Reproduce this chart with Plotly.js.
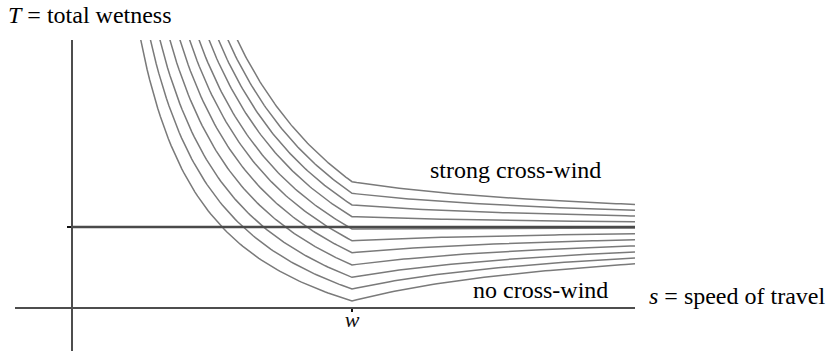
<!DOCTYPE html>
<html>
<head>
<meta charset="utf-8">
<script src="https://cdn.plot.ly/plotly-3.0.1.min.js"></script>
<style>html,body{margin:0;padding:0;background:#fff;}#chart{width:826px;height:351px;}</style>
</head>
<body>
<div id="chart"></div>
<script>
// ---- values ----
// speed of the rain's horizontal component (tick "w"), in units of w
const rainSpeed = 1;
// level of the flat (dark) line: wetness reached as s grows, in units of that level
const limitWetness = 1.0;
// total wetness of each curve at s = w (top = strong cross-wind, bottom = no cross-wind)
const wetnessAtW = [1.566, 1.421, 1.275, 1.129, 0.975, 0.829, 0.679, 0.525, 0.371, 0.225, 0.075];
// axis extents (s in units of w, T in units of the flat level)
const sRange = [-0.1993, 2.0071];
const tRange = [-0.55, 3.3375];
const xTickVals = [rainSpeed];
const xTickText = ['<i>w</i>'];
const yTickVals = [limitWetness];

// wetness model: rain from behind for s < w, from the front for s > w
function wetness(s, tw) {
  if (s < rainSpeed) return -limitWetness + (limitWetness + tw) * rainSpeed / s;
  return limitWetness + (tw - limitWetness) * rainSpeed / s;
}

const FONT = '"Liberation Serif", "Times New Roman", serif';
const traces = [];
wetnessAtW.forEach(function (tw) {
  const sStart = (limitWetness + tw) * rainSpeed / (limitWetness + tRange[1] + 0.1);
  const xs = [], ys = [];
  const n1 = 80;
  for (let i = 0; i <= n1; i++) {
    const s = sStart + (rainSpeed - sStart) * i / n1;
    xs.push(s); ys.push(wetness(s, tw));
  }
  const n2 = 60;
  for (let i = 1; i <= n2; i++) {
    const s = rainSpeed + (sRange[1] - rainSpeed) * i / n2;
    xs.push(s); ys.push(wetness(s, tw));
  }
  traces.push({x: xs, y: ys, mode: 'lines', line: {color: '#7a7a7a', width: 1.5}, hoverinfo: 'skip', showlegend: false});
});
// the flat line
traces.push({x: [0, sRange[1]], y: [limitWetness, limitWetness], mode: 'lines',
  line: {color: '#4a4a4a', width: 2.4}, hoverinfo: 'skip', showlegend: false});

// helpers for text placement (pixel -> paper)
const L = 15, R = 635, T = 40, B = 351;
function px(x) { return (x - L) / (R - L); }
function py(y) { return (B - y) / (B - T); }

const layout = {
  width: 826, height: 351,
  margin: {l: L, r: 826 - R, t: T, b: 0},
  paper_bgcolor: '#fff', plot_bgcolor: '#fff',
  showlegend: false,
  xaxis: {
    range: sRange, domain: [0, 1], anchor: 'free',
    position: -tRange[0] / (tRange[1] - tRange[0]),
    showgrid: false, zeroline: false,
    showline: true, linecolor: '#4d4d4d', linewidth: 1.6,
    tickmode: 'array', tickvals: xTickVals, ticktext: xTickText,
    ticks: 'outside', ticklen: 3, tickwidth: 2, tickcolor: '#111',
    ticklabelstandoff: -11,
    tickfont: {family: FONT, size: 22, color: '#111'}
  },
  yaxis: {
    range: tRange, domain: [0, 1], anchor: 'free',
    position: -sRange[0] / (sRange[1] - sRange[0]),
    showgrid: false, zeroline: false,
    showline: true, linecolor: '#4d4d4d', linewidth: 1.6,
    tickmode: 'array', tickvals: yTickVals, showticklabels: false,
    ticks: 'outside', ticklen: 4, tickwidth: 2, tickcolor: '#111'
  },
  annotations: [
    {text: '<i>T</i> = total wetness', xref: 'paper', yref: 'paper', x: px(6), y: py(15), xanchor: 'left', yanchor: 'middle', showarrow: false, font: {family: FONT, size: 24, color: '#000'}},
    {text: 'strong cross-wind', xref: 'paper', yref: 'paper', x: px(428), y: py(170), xanchor: 'left', yanchor: 'middle', showarrow: false, font: {family: FONT, size: 24, color: '#000'}},
    {text: 'no cross-wind', xref: 'paper', yref: 'paper', x: px(471), y: py(290), xanchor: 'left', yanchor: 'middle', showarrow: false, font: {family: FONT, size: 24, color: '#000'}},
    {text: '<i>s</i> = speed of travel', xref: 'paper', yref: 'paper', x: px(647), y: py(296), xanchor: 'left', yanchor: 'middle', showarrow: false, font: {family: FONT, size: 24, color: '#000'}}
  ]
};

Plotly.newPlot('chart', traces, layout, {staticPlot: true, displayModeBar: false});
</script>
</body>
</html>
